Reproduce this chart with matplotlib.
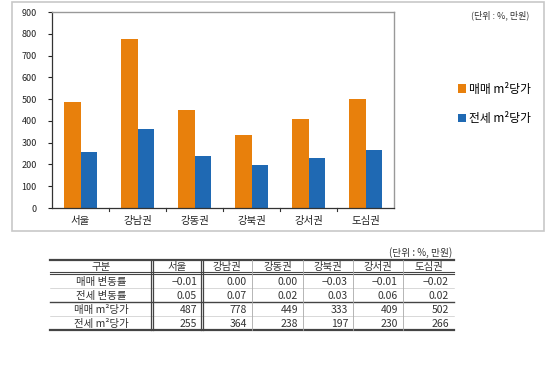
import matplotlib
matplotlib.use("Agg")
import matplotlib.pyplot as plt
from matplotlib.patches import Rectangle

plt.rcParams['font.family'] = ['Noto Sans CJK KR', 'DejaVu Sans']

regions = ['서울', '강남권', '강동권', '강북권', '강서권', '도심권']
sale_rate = ['-0.01', '0.00', '0.00', '-0.03', '-0.01', '-0.02']
jeonse_rate = ['0.05', '0.07', '0.02', '0.03', '0.06', '0.02']
sale_price = [487, 778, 449, 333, 409, 502]
jeonse_price = [255, 364, 238, 197, 230, 266]
row_labels = ['매매 변동률', '전세 변동률', '매매 m²당가', '전세 m²당가']
series_names = ['매매 m²당가', '전세 m²당가']
unit_text = '(단위 : %, 만원)'

W, H = 550, 366
fig = plt.figure(figsize=(W / 100, H / 100), dpi=100)
fig.patch.set_facecolor('white')

def fx(px):
    return px / W

def fy(py):
    return 1 - py / H

# outer chart frame
frame = Rectangle((fx(12), fy(231)), fx(544) - fx(12), fy(2) - fy(231),
                  transform=fig.transFigure, fill=False, edgecolor='#c8c8c8', lw=1.2)
fig.add_artist(frame)

# bar chart axes
ax = fig.add_axes([fx(52), fy(208), fx(394) - fx(52), fy(12) - fy(208)])
x = list(range(len(regions)))
bw = 0.29
orange = '#E8800C'
blue = '#1F69B3'
ax.bar([i - bw / 2 for i in x], sale_price, width=bw, color=orange, label=series_names[0])
ax.bar([i + bw / 2 for i in x], jeonse_price, width=bw, color=blue, label=series_names[1])
ax.set_xlim(-0.5, len(regions) - 0.5)
ax.set_ylim(0, 900)
ax.set_yticks(range(0, 901, 100))
ax.tick_params(axis='y', labelsize=6.5, length=3, width=0.8, colors='#222222', pad=8)
ax.set_xticks(x)
ax.set_xticklabels(regions, fontsize=7.5)
ax.tick_params(axis='x', length=0, pad=6, colors='#222222')
for t in [i + 0.5 for i in x[:-1]]:
    ax.plot([t, t], [0, -14], color='#333333', lw=0.8, clip_on=False)
for s in ['top', 'right']:
    ax.spines[s].set_color('#999999')
    ax.spines[s].set_linewidth(1.0)
for s in ['left', 'bottom']:
    ax.spines[s].set_color('#333333')
    ax.spines[s].set_linewidth(0.9)

# legend
leg = fig.legend(handles=ax.get_legend_handles_labels()[0], labels=series_names,
                 loc='center left', bbox_to_anchor=(fx(447), fy(104)), frameon=False,
                 fontsize=8.5, handlelength=0.7, handleheight=0.7, handletextpad=0.3,
                 labelspacing=1.4)

fig.text(fx(529), fy(15), unit_text, fontsize=6.5, ha='right', va='center', color='#333333')

# table
tx = [50, 152, 202, 252, 303, 353, 403, 454]
ty = [260, 273, 288, 302, 316, 330]
fig.text(fx(452), fy(256), unit_text, fontsize=7, ha='right', va='baseline', color='#333333')
line_c = '#444444'

def hline(y, x0=tx[0], x1=tx[-1], lw=1.0, c=line_c):
    fig.add_artist(plt.Line2D([fx(x0), fx(x1)], [fy(y), fy(y)], color=c, lw=lw,
                              transform=fig.transFigure))

def vline(xv, y0=ty[0], y1=ty[-1], lw=0.6, c='#aaaaaa'):
    fig.add_artist(plt.Line2D([fx(xv), fx(xv)], [fy(y0), fy(y1)], color=c, lw=lw,
                              transform=fig.transFigure))

hline(ty[0], lw=1.6)
hline(ty[1] - 1, lw=0.8)
hline(ty[1] + 1, lw=0.8)
hline(ty[2], lw=0.4, c='#bbbbbb')
hline(ty[3], lw=1.0)
hline(ty[4], lw=0.4, c='#bbbbbb')
hline(ty[5], lw=1.6)
for xv in tx[3:-1]:
    vline(xv)
for xv in (tx[1], tx[2]):
    vline(xv - 1, lw=0.9, c='#444444')
    vline(xv + 1, lw=0.9, c='#444444')

fs = 7.5
tc = '#333333'
header = ['구분'] + regions
for j, h in enumerate(header):
    fig.text(fx((tx[j] + tx[j + 1]) / 2), fy(ty[1] - 3), h, fontsize=fs,
             ha='center', va='baseline', color=tc)

rows = [sale_rate, jeonse_rate, [str(v) for v in sale_price], [str(v) for v in jeonse_price]]
for r, (lab, vals) in enumerate(zip(row_labels, rows)):
    yb = fy(ty[r + 2] - 3)
    fig.text(fx((tx[0] + tx[1]) / 2), yb, lab, fontsize=fs, ha='center', va='baseline', color=tc)
    for j, v in enumerate(vals):
        fig.text(fx(tx[j + 2] - 5), yb, v.replace('-', '−'), fontsize=fs,
                 ha='right', va='baseline', color=tc)

fig.savefig('out.png', dpi=100)
